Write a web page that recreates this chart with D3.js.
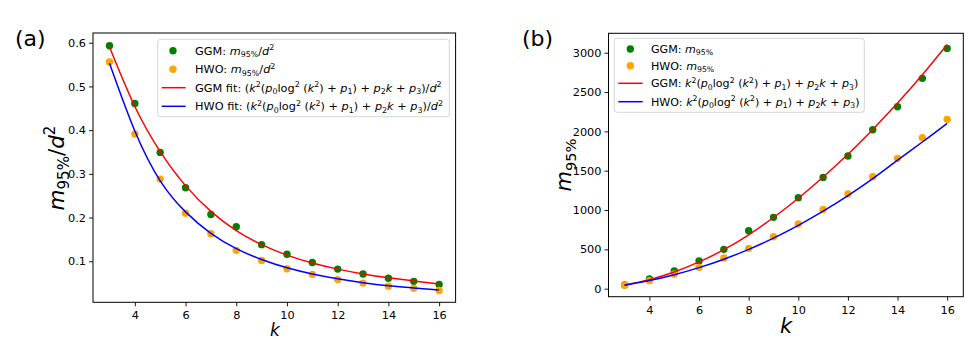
<!DOCTYPE html>
<html><head><meta charset="utf-8">
<script src="https://cdn.jsdelivr.net/npm/d3@7"></script>
<style>
body{margin:0;background:#fff;}
svg{display:block;font-family:"DejaVu Sans",sans-serif;}
</style></head>
<body><svg id="chart" width="971" height="347"></svg>
<script>
// ---- data ----
const kValues = [3,4,5,6,7,8,9,10,11,12,13,14,15,16];
// panel (a): m95%/d^2
const ggmNorm = [0.593,0.461,0.349,0.268,0.207,0.179,0.138,0.116,0.097,0.082,0.071,0.061,0.054,0.047];
const hwoNorm = [0.556,0.391,0.288,0.210,0.163,0.125,0.102,0.083,0.070,0.058,0.050,0.043,0.038,0.033];
const ggmFitNorm = [0.590,0.454,0.351,0.273,0.214,0.170,0.138,0.114,0.096,0.082,0.071,0.062,0.055,0.048];
const hwoFitNorm = [0.553,0.398,0.284,0.213,0.164,0.129,0.104,0.085,0.071,0.060,0.051,0.044,0.039,0.034];
// panel (b): m95%
const ggmRaw = [48,125,225,352,500,737,907,1157,1415,1686,2021,2313,2674,3055];
const hwoRaw = [45,102,186,271,390,513,661,822,1008,1203,1424,1657,1920,2153];
const ggmFitRaw = [47,115,212,340,496,685,905,1150,1420,1710,2025,2360,2720,3105];
const hwoFitRaw = [45,103,178,268,375,500,643,805,985,1183,1400,1634,1865,2102];
// ticks
const xTicks = [4,6,8,10,12,14,16];
const yTicksA = [0.1,0.2,0.3,0.4,0.5,0.6];
const yTicksB = [0,500,1000,1500,2000,2500,3000];

const svg = d3.select("#chart");
const GREEN="#008000", ORANGE="#ffa500", RED="#ff0000", BLUE="#0000ff";

// math text helper: segments [text, italic, pos] pos: 0 normal, 1 sup, -1 sub
function mathText(sel, segs, size){
  let prev = 0;
  segs.forEach(([t, it, pos])=>{
    const shift = pos===1 ? -0.42*size : pos===-1 ? 0.22*size : 0;
    sel.append("tspan").text(t)
      .attr("dy", shift - prev)
      .attr("font-size", pos ? size*0.7 : size)
      .attr("font-style", it ? "italic" : "normal");
    prev = shift;
  });
}

function panel(cfg){
  const g = svg.append("g");
  const x = d3.scaleLinear().domain([2.35,16.65]).range(cfg.xr);
  const y = d3.scaleLinear().domain(cfg.yd).range(cfg.yr);
  const fs = 11.3;
  const ax = g.append("g").attr("transform",`translate(0,${cfg.yr[0]})`)
    .call(d3.axisBottom(x).tickValues(xTicks).tickSize(4).tickPadding(5).tickFormat(d3.format("d")));
  const ay = g.append("g").attr("transform",`translate(${cfg.xr[0]},0)`)
    .call(d3.axisLeft(y).tickValues(cfg.yTicks).tickSize(4).tickPadding(3).tickFormat(cfg.fmt));
  [ax,ay].forEach(a=>{
    a.select(".domain").remove();
    a.selectAll("text").attr("font-family","DejaVu Sans").attr("font-size",fs).attr("fill","#000");
    a.selectAll("line").attr("stroke","#000").attr("stroke-width",0.9);
  });
  // points
  const pts = (vals,color)=>g.append("g").selectAll("circle").data(kValues).join("circle")
    .attr("cx",d=>x(d)).attr("cy",(d,i)=>y(vals[i])).attr("r",3.7).attr("fill",color);
  pts(cfg.ggm, GREEN);
  pts(cfg.hwo, ORANGE);
  const line = vals=>d3.line().x(d=>x(d)).y((d,i)=>y(vals[i])).curve(d3.curveNatural)(kValues);
  g.append("path").attr("d",line(cfg.ggmFit)).attr("fill","none").attr("stroke",RED).attr("stroke-width",1.5);
  g.append("path").attr("d",line(cfg.hwoFit)).attr("fill","none").attr("stroke",BLUE).attr("stroke-width",1.5);
  // frame
  g.append("rect").attr("x",cfg.xr[0]).attr("y",cfg.yr[1]).attr("width",cfg.xr[1]-cfg.xr[0]).attr("height",cfg.yr[0]-cfg.yr[1])
    .attr("fill","none").attr("stroke","#000").attr("stroke-width",1);
  // legend
  const L = cfg.legend;
  g.append("rect").attr("x",L.x0).attr("y",L.y0).attr("width",L.x1-L.x0).attr("height",L.y1-L.y0).attr("rx",3)
    .attr("fill","#fff").attr("fill-opacity",0.8).attr("stroke","#d6d6d6").attr("stroke-width",1);
  const lfs = L.fs;
  L.rows.forEach((r,i)=>{
    const cy = L.ys[i];
    if(r.type==="pt") g.append("circle").attr("cx",L.mx).attr("cy",cy).attr("r",3.7).attr("fill",r.color);
    else g.append("line").attr("x1",L.lx0).attr("x2",L.lx1).attr("y1",cy).attr("y2",cy).attr("stroke",r.color).attr("stroke-width",1.5);
    const t = g.append("text").attr("x",L.tx).attr("y",cy+0.36*lfs).attr("font-size",lfs).attr("fill","#000");
    mathText(t, r.segs, lfs);
  });
  // axis labels
  const xl = g.append("text").attr("x",cfg.xlab[0]).attr("y",cfg.xlab[1]).attr("text-anchor","middle").attr("fill","#000");
  mathText(xl, [["k",true,0]], cfg.xlabSize);
  const yl = g.append("text").attr("transform",`translate(${cfg.ylab[0]},${cfg.ylab[1]}) rotate(-90)`).attr("text-anchor","middle").attr("fill","#000");
  mathText(yl, cfg.ylabSegs, cfg.ylabSize);
  // panel label
  g.append("text").attr("x",cfg.plab[0]).attr("y",cfg.plab[1]).attr("font-size",22).attr("fill","#000").text(cfg.plabText);
}

const fitSegs = (prefix, suffix)=>{
  const s = [[prefix,false,0],["k",true,0],["2",false,1],["(",false,0],["p",true,0],["0",false,-1],["log",false,0],["2",false,1],
    [" (",false,0],["k",true,0],["2",false,1],[") + ",false,0],["p",true,0],["1",false,-1],[") + ",false,0],["p",true,0],["2",false,-1],
    ["k",true,0],[" + ",false,0],["p",true,0],["3",false,-1],[")",false,0]];
  return s.concat(suffix);
};

panel({
  xr:[93,455.6], yr:[302.3,33], yd:[0.0061,0.6222], yTicks:yTicksA, fmt:d3.format(".1f"),
  ggm:ggmNorm, hwo:hwoNorm, ggmFit:ggmFitNorm, hwoFit:hwoFitNorm,
  legend:{fs:11.3, x0:157.7,y0:39.3,x1:449.3,y1:116.7, mx:173, lx0:161.7, lx1:185.7, tx:195, ys:[50.7,69.3,87.7,106.3],
    rows:[
      {type:"pt",color:GREEN,segs:[["GGM: ",false,0],["m",true,0],["95%",false,-1],["/",false,0],["d",true,0],["2",false,1]]},
      {type:"pt",color:ORANGE,segs:[["HWO: ",false,0],["m",true,0],["95%",false,-1],["/",false,0],["d",true,0],["2",false,1]]},
      {type:"ln",color:RED,segs:fitSegs("GGM fit: (",[["/",false,0],["d",true,0],["2",false,1]])},
      {type:"ln",color:BLUE,segs:fitSegs("HWO fit: (",[["/",false,0],["d",true,0],["2",false,1]])}
    ]},
  xlab:[275,336], xlabSize:17,
  ylab:[64,168], ylabSize:21.5, ylabSegs:[["m",true,0],["95%",false,-1],["/",false,0],["d",true,0],["2",false,1]],
  plab:[15,46], plabText:"(a)"
});

panel({
  xr:[608.5,963.3], yr:[296.7,33.3], yd:[-102,3247], yTicks:yTicksB, fmt:d3.format("d"),
  ggm:ggmRaw, hwo:hwoRaw, ggmFit:ggmFitRaw, hwoFit:hwoFitRaw,
  legend:{fs:11.1, x0:614.3,y0:38.3,x1:864.3,y1:112.3, mx:630.3, lx0:618.3, lx1:642.7, tx:651, ys:[49,65.7,83.3,101.7],
    rows:[
      {type:"pt",color:GREEN,segs:[["GGM: ",false,0],["m",true,0],["95%",false,-1]]},
      {type:"pt",color:ORANGE,segs:[["HWO: ",false,0],["m",true,0],["95%",false,-1]]},
      {type:"ln",color:RED,segs:fitSegs("GGM: ",[])},
      {type:"ln",color:BLUE,segs:fitSegs("HWO: ",[])}
    ]},
  xlab:[786,333], xlabSize:21,
  ylab:[571,165], ylabSize:21, ylabSegs:[["m",true,0],["95%",false,-1]],
  plab:[522,46], plabText:"(b)"
});
</script></body></html>
